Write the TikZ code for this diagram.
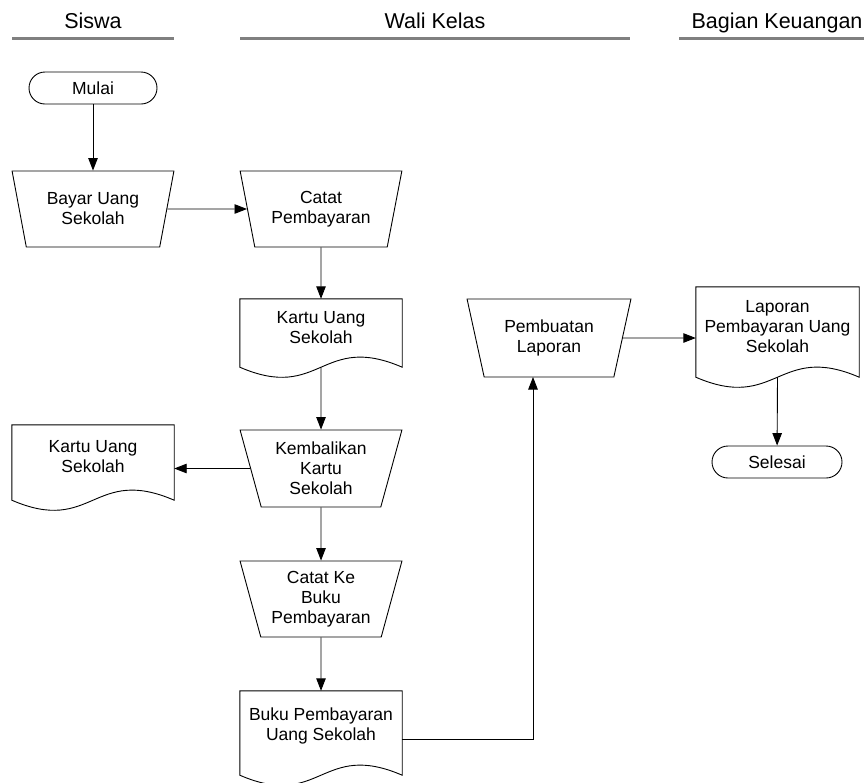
\documentclass[tikz,border=0pt]{standalone}
\usepackage{fontspec}
\setmainfont{Liberation Sans}
\usetikzlibrary{shapes.geometric,arrows.meta}
\definecolor{laneGray}{RGB}{128,128,128}
\begin{document}
\begin{tikzpicture}[x=1pt,y=-1pt,
  txt/.style={font=\fontsize{17.5pt}{20pt}\selectfont, align=center, inner sep=0pt},
  lanetitle/.style={font=\fontsize{21.5pt}{24pt}\selectfont, anchor=base, inner sep=0pt},
  laneline/.style={draw=laneGray, line width=2.2pt},
  outline/.style={draw=black, line width=0.9pt},
  terminal/.style={txt, outline, rounded corners=16pt, minimum height=32pt},
  manual/.style={txt, outline, trapezium, shape border rotate=180,
    trapezium stretches=true, trapezium left angle=#1, trapezium right angle=#1,
    minimum width=162pt, minimum height=76pt},
  manual/.default=73,
  document/.style={txt, rectangle, minimum width=162pt},
  arr/.style={draw=black, line width=0.9pt, -{Triangle[length=12.5pt,width=9.5pt]}},
]
\useasboundingbox (0,0) rectangle (864,782);

% lane headers
\node[lanetitle] (hsiswa) at (93,28) {Siswa};
\node[lanetitle] (hwali) at (435,28) {Wali Kelas};
\node[lanetitle] (hbagian) at (777,28) {Bagian Keuangan};
\coordinate (s1) at (12,38.5);   \coordinate (s2) at (174,38.5);
\coordinate (w1) at (240,38.5);  \coordinate (w2) at (630,38.5);
\coordinate (b1) at (679,38.5);  \coordinate (b2) at (864,38.5);
\draw[laneline] (s1) -- (s2);
\draw[laneline] (w1) -- (w2);
\draw[laneline] (b1) -- (b2);

% Siswa
\node[terminal, minimum width=128pt] (mulai) at (93,88) {Mulai};
\node[manual] (bayar) at (93,209) {Bayar Uang\\Sekolah};
\node[document, minimum height=64pt] (kartub) at (93,457) {Kartu Uang\\Sekolah};

% Wali Kelas
\node[manual] (catat) at (321,209) {Catat\\Pembayaran};
\node[document, minimum height=58pt] (kartu) at (321,328) {Kartu Uang\\Sekolah};
\node[manual=73, minimum height=77pt] (kembali) at (321,468.5) {Kembalikan\\Kartu\\Sekolah};
\node[manual] (catatke) at (321,599) {Catat Ke\\Buku\\Pembayaran};
\node[document, minimum height=70pt] (buku) at (321,726) {Buku Pembayaran\\Uang Sekolah};
\node[manual=72, minimum width=164pt, minimum height=78pt] (buat) at (549,338) {Pembuatan\\Laporan};

% Bagian Keuangan
\node[document, minimum width=163pt, minimum height=80pt] (lap) at (777.5,327) {Laporan\\Pembayaran Uang\\Sekolah};
\node[terminal, minimum width=130pt] (selesai) at (777,462) {Selesai};

% document outlines with wavy bottom edge
\foreach \n/\o in {kartu/10,kartub/11,buku/14,lap/10}
  \draw[outline] (\n.north west) -- (\n.north east) -- ([yshift=-\o pt]\n.south east)
    .. controls +(-81,-35) and +(81,35) .. ([yshift=-\o pt]\n.south west) -- cycle;

% flow
\draw[arr] (mulai) -- (bayar);
\draw[arr] (bayar) -- (catat);
\draw[arr] (catat) -- (kartu);
\draw[arr] ([yshift=-10pt]kartu.south) -- (kembali);
\draw[arr] (kembali) -- (kembali -| kartub.east);
\draw[arr] (kembali) -- (catatke);
\draw[arr] (catatke) -- (buku);
\draw[arr] ([yshift=-13pt]buku.east) -| ([shift={(-16pt,-39pt)}]buat.center);
\draw[arr] (buat) -- (buat -| lap.west);
\draw[arr] ([yshift=-10pt]lap.south) -- (selesai);
\end{tikzpicture}
\end{document}
